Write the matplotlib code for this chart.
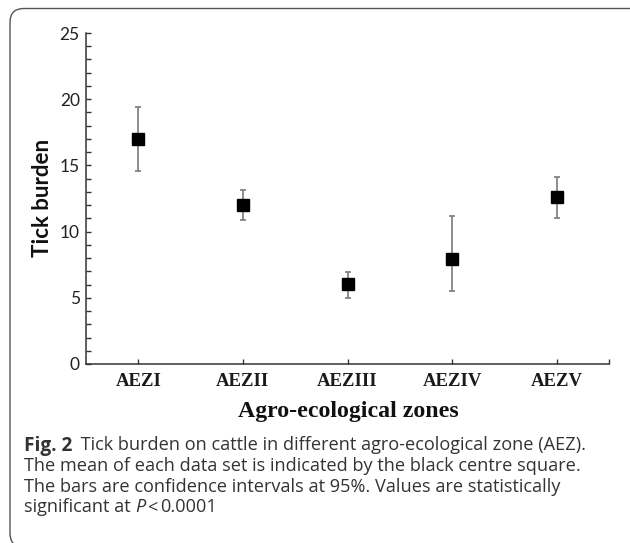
import matplotlib
matplotlib.use("Agg")
import matplotlib.pyplot as plt
from matplotlib.patches import FancyBboxPatch
from matplotlib.ticker import MultipleLocator, FixedLocator

# ---- data ----
zones = ['AEZI', 'AEZII', 'AEZIII', 'AEZIV', 'AEZV']
means = [16.97, 11.98, 6.04, 7.90, 12.61]
ci_low = [14.58, 10.85, 5.01, 5.54, 11.05]
ci_high = [19.43, 13.14, 6.97, 11.15, 14.15]
y_ticks = [0, 5, 10, 15, 20, 25]

caption_lines = [
    'The mean of each data set is indicated by the black centre square.',
    'The bars are confidence intervals at 95%. Values are statistically',
]

W, H = 630, 543
fig = plt.figure(figsize=(W / 100, H / 100), dpi=100)
renderer = fig.canvas.get_renderer()

def fx(px):
    return px / W

def fy(py):
    return (H - py) / H

# rounded frame (open to the right and bottom, as in the cropped original)
frame = FancyBboxPatch((fx(10), fy(547)), fx(700) - fx(10), fy(8.5) - fy(547),
                       boxstyle="round,pad=0,rounding_size=0.022",
                       transform=fig.transFigure, fill=False,
                       edgecolor='#555555', linewidth=1.0, mutation_aspect=W / H)
fig.patches.append(frame)

ax = fig.add_axes([fx(86), fy(364), fx(609) - fx(86), fy(33) - fy(364)])

x = list(range(1, len(zones) + 1))
yerr = [[m - lo for m, lo in zip(means, ci_low)],
        [hi - m for m, hi in zip(means, ci_high)]]
ax.errorbar(x, means, yerr=yerr, fmt='none', ecolor='#7a7a7a',
            elinewidth=1.2, capsize=2.2, capthick=1.2, zorder=2)
ax.plot(x, means, linestyle='none', marker='s', markersize=8.8,
        color='black', markeredgecolor='black', zorder=3)

ax.set_xlim(0.5, 5.5)
ax.set_ylim(0, 25)

for s in ['top', 'right']:
    ax.spines[s].set_visible(False)
for s in ['left', 'bottom']:
    ax.spines[s].set_color('#333333')
    ax.spines[s].set_linewidth(1.1)

ax.set_xticks(x)
ax.set_xticklabels(zones, fontfamily='Liberation Serif', fontweight='bold',
                   fontsize=13.5, color='#1a1a1a')
ax.xaxis.set_minor_locator(FixedLocator([5.5]))
ax.tick_params(axis='x', which='both', direction='in', length=3.5,
               width=1.0, color='#333333', pad=6.5)

ax.set_yticks(y_ticks)
ax.set_yticklabels([str(v) for v in y_ticks], fontfamily='Lato',
                   fontsize=12.5, color='#222222')
ax.yaxis.set_minor_locator(MultipleLocator(1))
ax.tick_params(axis='y', which='both', direction='in', length=3.5,
               width=1.0, color='#333333', pad=4.5)

# axis titles
fig.text(fx(43), fy(198), 'Tick burden', rotation=90, ha='center',
         va='center', fontfamily='Lato', fontweight='bold', fontsize=16,
         color='#111111')
fig.text(fx(348), fy(416.5), 'Agro-ecological zones', ha='center',
         va='baseline', fontfamily='Liberation Serif', fontweight='bold',
         fontsize=17.2, color='#111111')

# caption -- fit font size so the third line spans the same width as in the original
cap_family = 'Open Sans'
probe = fig.text(0, 0, caption_lines[1], fontfamily=cap_family, fontsize=12)
w12 = probe.get_window_extent(renderer).width
probe.remove()
cap_size = 12 * 533 / w12
cap_kw = dict(fontfamily=cap_family, fontsize=cap_size, color='#333333',
              va='baseline', ha='left')

def put_run(x_px, y_px, s, **extra):
    kw = dict(cap_kw)
    kw.update(extra)
    t = fig.text(fx(x_px), fy(y_px), s, **kw)
    bb = t.get_window_extent(renderer)
    return bb.x1  # right edge in pixels

x0 = 24
x_end = put_run(x0, 450.5, 'Fig. 2', fontweight='bold', fontsize=cap_size * 1.05)
put_run(x_end + 4, 450.5, ' Tick burden on cattle in different agro-ecological zone (AEZ).')
put_run(x0, 471, caption_lines[0])
put_run(x0, 491.5, caption_lines[1])
x_end = put_run(x0, 512, 'significant at ')
x_end = put_run(x_end, 512, 'P', fontstyle='italic')
x_end = put_run(x_end + 2, 512, '<')
put_run(x_end + 2, 512, '0.0001')

fig.savefig('out.png', dpi=100)
